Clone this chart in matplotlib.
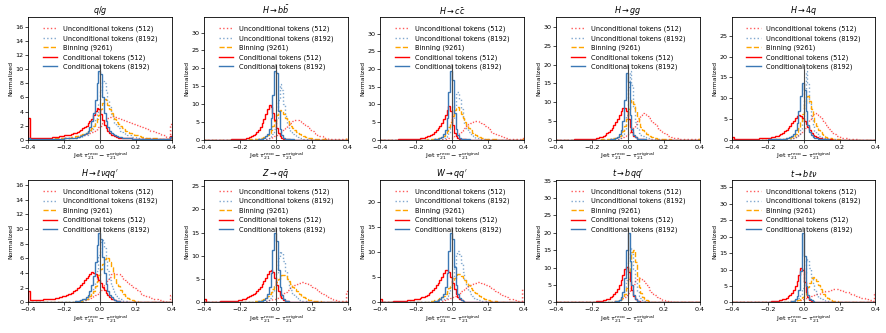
import numpy as np
import matplotlib
matplotlib.use("Agg")
import matplotlib.pyplot as plt
from matplotlib.ticker import MaxNLocator

# histogram bins: 0.01 wide from -0.4 to 0.4 (80 bins)
bin_edges = np.linspace(-0.4, 0.4, 81)

# === q/g
qg_unc512 = [
    0.3, 0.1, 0.1, 0.1, 0.1, 0.1, 0.1, 0.1, 0.1, 0.1,
    0.1, 0.1, 0.1, 0.1, 0.1, 0.2, 0.2, 0.2, 0.2, 0.2,
    0.3, 0.3, 0.3, 0.3, 0.4, 0.4, 0.4, 0.5, 0.5, 0.6,
    0.7, 0.7, 0.8, 0.9, 1.0, 1.1, 1.2, 1.4, 1.6, 1.8,
    2.0, 2.3, 2.6, 2.9, 3.1, 3.2, 3.3, 3.3, 3.2, 3.2,
    3.1, 3.0, 2.9, 2.8, 2.7, 2.6, 2.5, 2.4, 2.3, 2.2,
    2.1, 2.0, 1.9, 1.8, 1.7, 1.6, 1.5, 1.4, 1.3, 1.2,
    1.1, 1.0, 0.9, 0.8, 0.7, 0.6, 0.5, 0.4, 0.4, 2.2]
qg_unc8192 = [
    0.2, 0.1, 0.1, 0.1, 0.1, 0.1, 0.1, 0.1, 0.1, 0.1,
    0.1, 0.1, 0.1, 0.1, 0.1, 0.1, 0.1, 0.1, 0.1, 0.1,
    0.2, 0.2, 0.2, 0.2, 0.2, 0.3, 0.3, 0.3, 0.4, 0.4,
    0.5, 0.6, 0.7, 0.9, 1.1, 1.5, 2.0, 2.8, 3.8, 5.2,
    7.0, 8.3, 8.0, 6.8, 5.6, 4.6, 3.7, 3.0, 2.4, 2.0,
    1.6, 1.3, 1.1, 0.9, 0.8, 0.7, 0.6, 0.5, 0.4, 0.4,
    0.3, 0.3, 0.3, 0.2, 0.2, 0.2, 0.2, 0.2, 0.1, 0.1,
    0.1, 0.1, 0.1, 0.1, 0.1, 0.1, 0.1, 0.1, 0.1, 0.3]
qg_bin = [
    0.2, 0.1, 0.1, 0.1, 0.1, 0.1, 0.1, 0.1, 0.1, 0.1,
    0.1, 0.1, 0.1, 0.1, 0.1, 0.2, 0.2, 0.2, 0.2, 0.2,
    0.2, 0.3, 0.3, 0.3, 0.4, 0.4, 0.5, 0.5, 0.6, 0.7,
    0.8, 0.9, 1.0, 1.2, 1.4, 1.7, 2.0, 2.4, 2.9, 3.5,
    4.3, 5.2, 5.8, 5.6, 5.0, 4.4, 3.8, 3.3, 2.9, 2.5,
    2.2, 1.9, 1.7, 1.5, 1.3, 1.1, 1.0, 0.9, 0.8, 0.7,
    0.6, 0.5, 0.5, 0.4, 0.4, 0.3, 0.3, 0.3, 0.2, 0.2,
    0.2, 0.2, 0.2, 0.1, 0.1, 0.1, 0.1, 0.1, 0.1, 0.4]
qg_cond512 = [
    3.1, 0.2, 0.2, 0.2, 0.2, 0.2, 0.2, 0.3, 0.3, 0.3,
    0.3, 0.3, 0.3, 0.4, 0.4, 0.4, 0.4, 0.5, 0.5, 0.5,
    0.6, 0.6, 0.7, 0.7, 0.8, 0.9, 1.0, 1.1, 1.2, 1.4,
    1.6, 1.8, 2.0, 2.3, 2.6, 3.0, 3.5, 4.1, 4.5, 4.4,
    3.6, 2.8, 2.1, 1.6, 1.2, 0.9, 0.7, 0.6, 0.5, 0.4,
    0.3, 0.3, 0.3, 0.2, 0.2, 0.2, 0.2, 0.2, 0.1, 0.1,
    0.1, 0.1, 0.1, 0.1, 0.1, 0.1, 0.1, 0.1, 0.1, 0.1,
    0.1, 0.1, 0.1, 0.1, 0.1, 0.1, 0.1, 0.1, 0.1, 0.5]
qg_cond8192 = [
    0.3, 0.1, 0.1, 0.1, 0.1, 0.1, 0.1, 0.1, 0.1, 0.1,
    0.1, 0.1, 0.1, 0.1, 0.1, 0.1, 0.1, 0.1, 0.1, 0.1,
    0.2, 0.2, 0.2, 0.2, 0.3, 0.3, 0.3, 0.4, 0.4, 0.5,
    0.6, 0.8, 1.0, 1.3, 1.8, 2.6, 3.8, 5.6, 8.0, 9.8,
    9.4, 6.0, 3.8, 2.6, 1.8, 1.3, 1.0, 0.8, 0.6, 0.5,
    0.4, 0.4, 0.3, 0.3, 0.2, 0.2, 0.2, 0.2, 0.1, 0.1,
    0.1, 0.1, 0.1, 0.1, 0.1, 0.1, 0.1, 0.1, 0.1, 0.1,
    0.1, 0.1, 0.1, 0.1, 0.1, 0.1, 0.1, 0.1, 0.1, 0.4]

# === H -> bb
bb_unc512 = [
    0, 0, 0, 0, 0, 0, 0, 0, 0, 0,
    0, 0, 0, 0, 0, 0, 0, 0, 0, 0,
    0, 0, 0, 0, 0, 0, 0, 0.1, 0.1, 0.1,
    0.1, 0.1, 0.1, 0.2, 0.2, 0.3, 0.4, 0.5, 0.7, 0.9,
    1.2, 1.5, 1.9, 2.4, 2.9, 3.4, 3.9, 4.4, 4.8, 5.2,
    5.4, 5.5, 5.4, 5.2, 4.9, 4.5, 4.1, 3.7, 3.2, 2.8,
    2.4, 2.0, 1.7, 1.4, 1.1, 0.9, 0.7, 0.6, 0.4, 0.3,
    0.3, 0.2, 0.2, 0.1, 0.1, 0.1, 0.1, 0.1, 0.1, 0.4]
bb_unc8192 = [
    0, 0, 0, 0, 0, 0, 0, 0, 0, 0,
    0, 0, 0, 0, 0, 0, 0, 0, 0, 0,
    0, 0, 0, 0, 0, 0, 0, 0, 0, 0,
    0.1, 0.1, 0.1, 0.2, 0.2, 0.3, 0.5, 0.9, 1.6, 3.0,
    6.0, 11.0, 15.5, 14.0, 10.0, 6.5, 4.3, 3.0, 2.2, 1.6,
    1.2, 0.9, 0.7, 0.5, 0.4, 0.3, 0.2, 0.2, 0.1, 0.1,
    0, 0, 0, 0, 0, 0, 0, 0, 0, 0,
    0, 0, 0, 0, 0, 0, 0, 0, 0, 0]
bb_bin = [
    0, 0, 0, 0, 0, 0, 0, 0, 0, 0,
    0, 0, 0, 0, 0, 0, 0, 0, 0, 0,
    0, 0, 0, 0, 0, 0.1, 0.1, 0.1, 0.2, 0.2,
    0.3, 0.4, 0.5, 0.7, 0.9, 1.3, 1.8, 2.6, 3.7, 5.2,
    6.8, 8.0, 8.3, 7.9, 7.1, 6.2, 5.3, 4.5, 3.8, 3.2,
    2.7, 2.2, 1.8, 1.5, 1.2, 1.0, 0.8, 0.6, 0.5, 0.4,
    0.3, 0.3, 0.2, 0.2, 0.1, 0.1, 0.1, 0.1, 0, 0,
    0, 0, 0, 0, 0, 0, 0, 0, 0, 0.5]
bb_cond512 = [
    0, 0, 0, 0, 0, 0, 0, 0, 0, 0,
    0, 0, 0, 0, 0, 0.1, 0.1, 0.1, 0.1, 0.1,
    0.2, 0.3, 0.3, 0.4, 0.5, 0.7, 0.9, 1.2, 1.6, 2.1,
    2.8, 3.6, 4.6, 5.8, 7.2, 8.6, 9.7, 9.2, 7.6, 5.5,
    3.3, 1.8, 0.9, 0.5, 0.3, 0.2, 0.1, 0.1, 0, 0,
    0, 0, 0, 0, 0, 0, 0, 0, 0, 0,
    0, 0, 0, 0, 0, 0, 0, 0, 0, 0,
    0, 0, 0, 0, 0, 0, 0, 0, 0, 0]
bb_cond8192 = [
    0, 0, 0, 0, 0, 0, 0, 0, 0, 0,
    0, 0, 0, 0, 0, 0, 0, 0, 0, 0,
    0, 0, 0, 0, 0, 0, 0, 0, 0, 0,
    0.1, 0.2, 0.3, 0.5, 0.9, 1.6, 3.0, 6.2, 12.5, 19.3,
    18.8, 8.0, 3.0, 1.2, 0.5, 0.3, 0.2, 0.1, 0.1, 0.1,
    0, 0, 0, 0, 0, 0, 0, 0, 0, 0,
    0, 0, 0, 0, 0, 0, 0, 0, 0, 0,
    0, 0, 0, 0, 0, 0, 0, 0, 0, 0]

# === H -> cc
cc_unc512 = [
    0, 0, 0, 0, 0, 0, 0, 0, 0, 0,
    0, 0, 0, 0, 0, 0, 0, 0, 0, 0,
    0, 0, 0, 0, 0, 0, 0, 0, 0, 0,
    0.1, 0.1, 0.1, 0.1, 0.1, 0.2, 0.2, 0.3, 0.4, 0.5,
    0.7, 0.9, 1.2, 1.5, 1.9, 2.3, 2.8, 3.3, 3.8, 4.3,
    4.7, 5.0, 5.3, 5.3, 5.2, 5.0, 4.7, 4.3, 3.9, 3.5,
    3.1, 2.7, 2.3, 2.0, 1.7, 1.4, 1.1, 0.9, 0.7, 0.6,
    0.5, 0.4, 0.3, 0.3, 0.2, 0.2, 0.1, 0.1, 0.1, 0.5]
cc_unc8192 = [
    0, 0, 0, 0, 0, 0, 0, 0, 0, 0,
    0, 0, 0, 0, 0, 0, 0, 0, 0, 0,
    0, 0, 0, 0, 0, 0, 0, 0, 0, 0,
    0.1, 0.1, 0.1, 0.2, 0.3, 0.4, 0.6, 1.0, 1.8, 3.2,
    5.8, 9.5, 13.0, 13.5, 11.5, 8.8, 6.3, 4.4, 3.1, 2.2,
    1.6, 1.2, 0.9, 0.6, 0.5, 0.4, 0.3, 0.2, 0.2, 0.1,
    0, 0, 0, 0, 0, 0, 0, 0, 0, 0,
    0, 0, 0, 0, 0, 0, 0, 0, 0, 0]
cc_bin = [
    0, 0, 0, 0, 0, 0, 0, 0, 0, 0,
    0, 0, 0, 0, 0, 0, 0, 0, 0, 0,
    0, 0, 0, 0, 0, 0, 0.1, 0.1, 0.1, 0.1,
    0.2, 0.3, 0.4, 0.6, 0.8, 1.1, 1.6, 2.4, 3.5, 5.0,
    6.8, 8.3, 9.1, 9.2, 8.5, 7.4, 6.2, 5.1, 4.1, 3.3,
    2.6, 2.0, 1.6, 1.2, 0.9, 0.7, 0.5, 0.4, 0.3, 0.2,
    0.2, 0.1, 0.1, 0.1, 0.1, 0, 0, 0, 0, 0,
    0, 0, 0, 0, 0, 0, 0, 0, 0, 0.3]
cc_cond512 = [
    0, 0, 0, 0, 0, 0, 0, 0, 0, 0,
    0.1, 0.1, 0.1, 0.1, 0.1, 0.1, 0.2, 0.2, 0.2, 0.2,
    0.3, 0.3, 0.4, 0.5, 0.6, 0.7, 0.9, 1.1, 1.4, 1.7,
    2.1, 2.6, 3.2, 3.9, 4.8, 5.9, 7.1, 8.4, 9.5, 8.0,
    4.2, 2.0, 1.0, 0.5, 0.3, 0.2, 0.1, 0.1, 0, 0,
    0, 0, 0, 0, 0, 0, 0, 0, 0, 0,
    0, 0, 0, 0, 0, 0, 0, 0, 0, 0,
    0, 0, 0, 0, 0, 0, 0, 0, 0, 0]
cc_cond8192 = [
    0, 0, 0, 0, 0, 0, 0, 0, 0, 0,
    0, 0, 0, 0, 0, 0, 0, 0, 0, 0,
    0, 0, 0, 0, 0, 0, 0, 0, 0, 0,
    0.1, 0.2, 0.3, 0.5, 0.8, 1.5, 2.8, 6.0, 13.5, 19.5,
    17.0, 7.5, 3.0, 1.2, 0.5, 0.3, 0.2, 0.1, 0.1, 0.1,
    0, 0, 0, 0, 0, 0, 0, 0, 0, 0,
    0, 0, 0, 0, 0, 0, 0, 0, 0, 0,
    0, 0, 0, 0, 0, 0, 0, 0, 0, 0]

# === H -> gg
gg_unc512 = [
    0, 0, 0, 0, 0, 0, 0, 0, 0, 0,
    0, 0, 0, 0, 0, 0, 0, 0, 0, 0,
    0, 0, 0, 0, 0, 0, 0, 0, 0, 0,
    0.1, 0.1, 0.2, 0.2, 0.3, 0.4, 0.5, 0.7, 0.9, 1.2,
    1.6, 2.1, 2.7, 3.4, 4.2, 5.0, 5.8, 6.5, 7.0, 6.9,
    6.6, 6.2, 5.7, 5.1, 4.5, 3.9, 3.4, 2.9, 2.4, 2.0,
    1.7, 1.4, 1.1, 0.9, 0.7, 0.6, 0.5, 0.4, 0.3, 0.2,
    0.2, 0.2, 0.1, 0.1, 0.1, 0.1, 0.1, 0.1, 0.1, 0.3]
gg_unc8192 = [
    0, 0, 0, 0, 0, 0, 0, 0, 0, 0,
    0, 0, 0, 0, 0, 0, 0, 0, 0, 0,
    0, 0, 0, 0, 0, 0, 0, 0, 0, 0,
    0.1, 0.1, 0.2, 0.2, 0.3, 0.5, 0.8, 1.4, 2.8, 6.5,
    14.0, 18.4, 14.5, 8.5, 4.8, 2.9, 1.9, 1.3, 0.9, 0.6,
    0.5, 0.4, 0.3, 0.2, 0.2, 0.1, 0.1, 0.1, 0.1, 0,
    0, 0, 0, 0, 0, 0, 0, 0, 0, 0,
    0, 0, 0, 0, 0, 0, 0, 0, 0, 0]
gg_bin = [
    0, 0, 0, 0, 0, 0, 0, 0, 0, 0,
    0, 0, 0, 0, 0, 0, 0, 0, 0, 0,
    0, 0, 0, 0, 0, 0.1, 0.1, 0.1, 0.1, 0.1,
    0.2, 0.3, 0.4, 0.5, 0.7, 1.0, 1.5, 2.3, 3.6, 5.6,
    8.2, 10.1, 10.5, 9.4, 7.6, 5.9, 4.5, 3.4, 2.6, 2.0,
    1.5, 1.2, 0.9, 0.7, 0.5, 0.4, 0.3, 0.2, 0.2, 0.1,
    0.1, 0.1, 0.1, 0.1, 0, 0, 0, 0, 0, 0,
    0, 0, 0, 0, 0, 0, 0, 0, 0, 0.3]
gg_cond512 = [
    0, 0, 0, 0, 0, 0, 0, 0, 0, 0,
    0.1, 0.1, 0.1, 0.1, 0.1, 0.1, 0.2, 0.2, 0.2, 0.2,
    0.3, 0.3, 0.4, 0.5, 0.6, 0.8, 1.0, 1.3, 1.7, 2.1,
    2.6, 3.2, 3.9, 4.7, 5.6, 6.6, 7.6, 8.4, 8.5, 7.6,
    5.6, 3.5, 2.0, 1.1, 0.6, 0.3, 0.2, 0.1, 0.1, 0,
    0, 0, 0, 0, 0, 0, 0, 0, 0, 0,
    0, 0, 0, 0, 0, 0, 0, 0, 0, 0,
    0, 0, 0, 0, 0, 0, 0, 0, 0, 0]
gg_cond8192 = [
    0, 0, 0, 0, 0, 0, 0, 0, 0, 0,
    0, 0, 0, 0, 0, 0, 0, 0, 0, 0,
    0, 0, 0, 0, 0, 0, 0, 0, 0, 0,
    0.1, 0.2, 0.3, 0.5, 0.8, 1.4, 2.5, 5.0, 10.5, 17.8,
    15.5, 6.5, 2.8, 1.3, 0.6, 0.3, 0.2, 0.1, 0.1, 0.1,
    0, 0, 0, 0, 0, 0, 0, 0, 0, 0,
    0, 0, 0, 0, 0, 0, 0, 0, 0, 0,
    0, 0, 0, 0, 0, 0, 0, 0, 0, 0]

# === H -> 4q
q4_unc512 = [
    0, 0, 0, 0, 0, 0, 0, 0, 0, 0,
    0, 0, 0, 0, 0, 0, 0, 0, 0, 0,
    0.1, 0.1, 0.1, 0.1, 0.1, 0.1, 0.1, 0.1, 0.2, 0.2,
    0.2, 0.2, 0.3, 0.4, 0.5, 0.7, 0.9, 1.2, 1.6, 2.1,
    2.7, 3.4, 4.2, 5.0, 5.8, 6.3, 6.5, 6.3, 5.9, 5.4,
    4.8, 4.2, 3.6, 3.0, 2.5, 2.0, 1.6, 1.3, 1.0, 0.8,
    0.6, 0.5, 0.4, 0.3, 0.2, 0.2, 0.1, 0.1, 0.1, 0.1,
    0, 0, 0, 0, 0, 0, 0, 0, 0, 0]
q4_unc8192 = [
    0, 0, 0, 0, 0, 0, 0, 0, 0, 0,
    0, 0, 0, 0, 0, 0, 0, 0, 0, 0,
    0, 0, 0, 0, 0, 0, 0, 0, 0, 0,
    0.1, 0.1, 0.2, 0.3, 0.4, 0.6, 0.9, 1.4, 2.5, 5.2,
    11.5, 16.6, 13.5, 8.5, 5.2, 3.3, 2.2, 1.5, 1.0, 0.7,
    0.5, 0.4, 0.3, 0.2, 0.2, 0.1, 0.1, 0.1, 0.1, 0,
    0, 0, 0, 0, 0, 0, 0, 0, 0, 0,
    0, 0, 0, 0, 0, 0, 0, 0, 0, 0]
q4_bin = [
    0, 0, 0, 0, 0, 0, 0, 0, 0, 0,
    0, 0, 0, 0, 0, 0, 0, 0, 0, 0,
    0, 0, 0, 0, 0.1, 0.1, 0.1, 0.1, 0.2, 0.2,
    0.3, 0.4, 0.5, 0.7, 0.9, 1.3, 1.9, 2.8, 4.2, 6.2,
    8.6, 10.3, 10.5, 9.3, 7.5, 5.7, 4.3, 3.2, 2.4, 1.8,
    1.3, 1.0, 0.7, 0.5, 0.4, 0.3, 0.2, 0.2, 0.1, 0.1,
    0, 0, 0, 0, 0, 0, 0, 0, 0, 0,
    0, 0, 0, 0, 0, 0, 0, 0, 0, 0]
q4_cond512 = [
    0.6, 0.1, 0.1, 0.1, 0.1, 0.1, 0.1, 0.1, 0.1, 0.1,
    0.2, 0.2, 0.2, 0.2, 0.2, 0.3, 0.3, 0.3, 0.3, 0.4,
    0.5, 0.5, 0.6, 0.7, 0.8, 1.0, 1.2, 1.4, 1.7, 2.0,
    2.4, 2.8, 3.3, 3.9, 4.5, 5.1, 5.7, 6.0, 5.8, 5.3,
    4.6, 3.8, 3.0, 2.3, 1.7, 1.2, 0.9, 0.6, 0.4, 0.3,
    0.2, 0.2, 0.1, 0.1, 0.1, 0.1, 0, 0, 0, 0,
    0, 0, 0, 0, 0, 0, 0, 0, 0, 0,
    0, 0, 0, 0, 0, 0, 0, 0, 0, 0]
q4_cond8192 = [
    0, 0, 0, 0, 0, 0, 0, 0, 0, 0,
    0, 0, 0, 0, 0, 0, 0, 0, 0, 0,
    0.1, 0.1, 0.1, 0.1, 0.1, 0.1, 0.1, 0.2, 0.2, 0.2,
    0.3, 0.4, 0.6, 0.9, 1.4, 2.3, 4.0, 6.8, 10.4, 13.6,
    12.0, 6.8, 3.5, 1.9, 1.1, 0.7, 0.5, 0.3, 0.2, 0.2,
    0.1, 0.1, 0.1, 0.1, 0, 0, 0, 0, 0, 0,
    0, 0, 0, 0, 0, 0, 0, 0, 0, 0,
    0, 0, 0, 0, 0, 0, 0, 0, 0, 0]

# === H -> l nu q q'
lv_unc512 = [
    0, 0, 0, 0, 0, 0, 0, 0, 0, 0,
    0, 0, 0, 0, 0, 0.1, 0.1, 0.1, 0.1, 0.1,
    0.1, 0.1, 0.1, 0.1, 0.1, 0.2, 0.2, 0.2, 0.2, 0.2,
    0.3, 0.3, 0.4, 0.5, 0.6, 0.7, 0.8, 1.0, 1.2, 1.4,
    1.7, 2.0, 2.4, 2.8, 3.2, 3.5, 3.8, 4.0, 4.0, 3.9,
    3.8, 3.6, 3.4, 3.2, 3.0, 2.8, 2.5, 2.3, 2.1, 1.9,
    1.7, 1.5, 1.3, 1.2, 1.0, 0.9, 0.8, 0.7, 0.6, 0.5,
    0.4, 0.4, 0.3, 0.3, 0.2, 0.2, 0.2, 0.1, 0.1, 1.0]
lv_unc8192 = [
    0, 0, 0, 0, 0, 0, 0, 0, 0, 0,
    0, 0, 0, 0, 0, 0, 0, 0, 0, 0,
    0, 0, 0.1, 0.1, 0.1, 0.1, 0.1, 0.1, 0.1, 0.2,
    0.2, 0.3, 0.4, 0.6, 0.8, 1.2, 1.8, 2.8, 4.3, 6.5,
    8.3, 8.5, 7.4, 5.8, 4.3, 3.1, 2.2, 1.6, 1.1, 0.8,
    0.6, 0.4, 0.3, 0.2, 0.2, 0.1, 0.1, 0.1, 0, 0,
    0, 0, 0, 0, 0, 0, 0, 0, 0, 0,
    0, 0, 0, 0, 0, 0, 0, 0, 0, 0]
lv_bin = [
    0, 0, 0, 0, 0, 0, 0, 0, 0, 0,
    0, 0, 0, 0, 0, 0, 0, 0, 0, 0,
    0, 0, 0, 0.1, 0.1, 0.1, 0.1, 0.1, 0.2, 0.2,
    0.3, 0.4, 0.5, 0.7, 0.9, 1.2, 1.6, 2.2, 2.9, 3.7,
    4.5, 5.3, 5.9, 6.2, 6.0, 5.5, 4.8, 4.0, 3.3, 2.7,
    2.2, 1.7, 1.4, 1.1, 0.8, 0.6, 0.5, 0.4, 0.3, 0.2,
    0.2, 0.1, 0.1, 0.1, 0.1, 0, 0, 0, 0, 0,
    0, 0, 0, 0, 0, 0, 0, 0, 0, 0]
lv_cond512 = [
    1.5, 0.3, 0.3, 0.3, 0.3, 0.3, 0.3, 0.3, 0.4, 0.4,
    0.4, 0.4, 0.5, 0.5, 0.5, 0.6, 0.6, 0.7, 0.7, 0.8,
    0.9, 1.0, 1.1, 1.2, 1.3, 1.5, 1.7, 1.9, 2.1, 2.4,
    2.7, 3.0, 3.3, 3.6, 3.9, 4.1, 4.0, 3.8, 3.5, 3.1,
    2.6, 2.1, 1.7, 1.3, 1.0, 0.7, 0.5, 0.4, 0.3, 0.2,
    0.2, 0.1, 0.1, 0.1, 0.1, 0.1, 0, 0, 0, 0,
    0, 0, 0, 0, 0, 0, 0, 0, 0, 0,
    0, 0, 0, 0, 0, 0, 0, 0, 0, 0]
lv_cond8192 = [
    0, 0, 0, 0, 0, 0, 0, 0, 0, 0,
    0, 0, 0, 0, 0, 0, 0, 0, 0, 0,
    0.1, 0.1, 0.1, 0.1, 0.1, 0.1, 0.2, 0.2, 0.2, 0.3,
    0.4, 0.5, 0.7, 1.0, 1.5, 2.3, 3.6, 5.5, 7.8, 9.4,
    8.6, 6.2, 4.0, 2.5, 1.6, 1.0, 0.7, 0.5, 0.3, 0.2,
    0.2, 0.1, 0.1, 0.1, 0.1, 0, 0, 0, 0, 0,
    0, 0, 0, 0, 0, 0, 0, 0, 0, 0,
    0, 0, 0, 0, 0, 0, 0, 0, 0, 0]

# === Z -> q qbar
z_unc512 = [
    0, 0, 0, 0, 0, 0, 0, 0, 0, 0,
    0, 0, 0, 0, 0, 0, 0, 0, 0, 0,
    0, 0, 0, 0, 0.1, 0.1, 0.1, 0.1, 0.1, 0.1,
    0.1, 0.2, 0.2, 0.3, 0.3, 0.4, 0.5, 0.6, 0.7, 0.8,
    1.0, 1.2, 1.4, 1.7, 2.0, 2.3, 2.6, 2.9, 3.2, 3.5,
    3.7, 3.9, 4.1, 4.2, 4.3, 4.3, 4.2, 4.1, 3.9, 3.7,
    3.4, 3.2, 2.9, 2.6, 2.3, 2.0, 1.8, 1.5, 1.3, 1.1,
    0.9, 0.8, 0.6, 0.5, 0.4, 0.3, 0.3, 0.2, 0.2, 2.5]
z_unc8192 = [
    0, 0, 0, 0, 0, 0, 0, 0, 0, 0,
    0, 0, 0, 0, 0, 0, 0, 0, 0, 0,
    0, 0, 0, 0, 0, 0, 0, 0, 0, 0,
    0.1, 0.2, 0.2, 0.3, 0.4, 0.6, 0.9, 1.4, 2.3, 3.8,
    6.4, 9.6, 11.0, 10.6, 8.8, 6.8, 5.0, 3.6, 2.6, 1.9,
    1.4, 1.0, 0.8, 0.6, 0.4, 0.3, 0.2, 0.2, 0.1, 0.1,
    0, 0, 0, 0, 0, 0, 0, 0, 0, 0,
    0, 0, 0, 0, 0, 0, 0, 0, 0, 0]
z_bin = [
    0, 0, 0, 0, 0, 0, 0, 0, 0, 0,
    0, 0, 0, 0, 0, 0, 0, 0, 0, 0,
    0, 0, 0.1, 0.1, 0.1, 0.1, 0.1, 0.2, 0.2, 0.3,
    0.4, 0.5, 0.6, 0.8, 1.0, 1.3, 1.7, 2.2, 2.8, 3.5,
    4.3, 5.0, 5.6, 5.9, 5.9, 5.6, 5.1, 4.5, 3.9, 3.4,
    2.9, 2.4, 2.0, 1.7, 1.4, 1.1, 0.9, 0.7, 0.6, 0.5,
    0.4, 0.3, 0.3, 0.2, 0.2, 0.1, 0.1, 0.1, 0.1, 0.1,
    0, 0, 0, 0, 0, 0, 0, 0, 0, 0]
z_cond512 = [
    0.8, 0.1, 0.1, 0.1, 0.1, 0.1, 0.1, 0.1, 0.1, 0.2,
    0.2, 0.2, 0.2, 0.2, 0.3, 0.3, 0.3, 0.4, 0.4, 0.5,
    0.6, 0.7, 0.8, 0.9, 1.1, 1.3, 1.5, 1.8, 2.1, 2.5,
    2.9, 3.4, 4.0, 4.6, 5.3, 6.0, 6.7, 7.0, 6.5, 5.3,
    3.8, 2.4, 1.5, 0.9, 0.5, 0.3, 0.2, 0.1, 0.1, 0.1,
    0, 0, 0, 0, 0, 0, 0, 0, 0, 0,
    0, 0, 0, 0, 0, 0, 0, 0, 0, 0,
    0, 0, 0, 0, 0, 0, 0, 0, 0, 0]
z_cond8192 = [
    0, 0, 0, 0, 0, 0, 0, 0, 0, 0,
    0, 0, 0, 0, 0, 0, 0, 0, 0, 0,
    0, 0, 0, 0, 0, 0, 0, 0, 0, 0,
    0.2, 0.3, 0.4, 0.6, 1.0, 1.7, 3.2, 6.3, 11.2, 14.8,
    13.2, 7.0, 3.2, 1.5, 0.7, 0.4, 0.2, 0.1, 0.1, 0.1,
    0, 0, 0, 0, 0, 0, 0, 0, 0, 0,
    0, 0, 0, 0, 0, 0, 0, 0, 0, 0,
    0, 0, 0, 0, 0, 0, 0, 0, 0, 0]

# === W -> q q'
w_unc512 = [
    0, 0, 0, 0, 0, 0, 0, 0, 0, 0,
    0, 0, 0, 0, 0, 0, 0, 0, 0, 0,
    0, 0, 0, 0, 0.1, 0.1, 0.1, 0.1, 0.1, 0.1,
    0.1, 0.2, 0.2, 0.3, 0.3, 0.4, 0.5, 0.6, 0.7, 0.8,
    1.0, 1.2, 1.4, 1.6, 1.9, 2.2, 2.5, 2.8, 3.1, 3.3,
    3.5, 3.7, 3.8, 3.9, 4.0, 4.0, 3.9, 3.8, 3.7, 3.5,
    3.3, 3.1, 2.8, 2.6, 2.3, 2.1, 1.8, 1.6, 1.4, 1.2,
    1.0, 0.9, 0.7, 0.6, 0.5, 0.4, 0.3, 0.3, 0.2, 2.7]
w_unc8192 = [
    0, 0, 0, 0, 0, 0, 0, 0, 0, 0,
    0, 0, 0, 0, 0, 0, 0, 0, 0, 0,
    0, 0, 0, 0, 0, 0, 0, 0, 0, 0,
    0.1, 0.2, 0.2, 0.3, 0.4, 0.6, 0.8, 1.2, 1.9, 3.0,
    4.8, 7.3, 9.4, 10.3, 9.6, 7.9, 6.0, 4.4, 3.2, 2.3,
    1.7, 1.2, 0.9, 0.7, 0.5, 0.4, 0.3, 0.2, 0.2, 0.1,
    0, 0, 0, 0, 0, 0, 0, 0, 0, 0,
    0, 0, 0, 0, 0, 0, 0, 0, 0, 0]
w_bin = [
    0, 0, 0, 0, 0, 0, 0, 0, 0, 0,
    0, 0, 0, 0, 0, 0, 0, 0, 0, 0,
    0, 0, 0.1, 0.1, 0.1, 0.1, 0.1, 0.2, 0.2, 0.3,
    0.4, 0.5, 0.6, 0.8, 1.0, 1.3, 1.7, 2.2, 2.8, 3.5,
    4.2, 4.9, 5.4, 5.7, 5.6, 5.3, 4.9, 4.4, 3.9, 3.4,
    2.9, 2.5, 2.1, 1.8, 1.5, 1.2, 1.0, 0.8, 0.6, 0.5,
    0.4, 0.3, 0.3, 0.2, 0.2, 0.1, 0.1, 0.1, 0.1, 0.1,
    0, 0, 0, 0, 0, 0, 0, 0, 0, 0]
w_cond512 = [
    0.6, 0.1, 0.1, 0.1, 0.1, 0.1, 0.1, 0.2, 0.2, 0.2,
    0.2, 0.2, 0.3, 0.3, 0.3, 0.4, 0.4, 0.4, 0.5, 0.6,
    0.6, 0.7, 0.8, 1.0, 1.1, 1.3, 1.5, 1.8, 2.1, 2.5,
    2.9, 3.4, 3.9, 4.5, 5.1, 5.8, 6.4, 6.5, 6.0, 5.1,
    3.9, 2.7, 1.7, 1.0, 0.6, 0.4, 0.2, 0.1, 0.1, 0.1,
    0, 0, 0, 0, 0, 0, 0, 0, 0, 0,
    0, 0, 0, 0, 0, 0, 0, 0, 0, 0,
    0, 0, 0, 0, 0, 0, 0, 0, 0, 0]
w_cond8192 = [
    0, 0, 0, 0, 0, 0, 0, 0, 0, 0,
    0, 0, 0, 0, 0, 0, 0, 0, 0, 0,
    0, 0, 0, 0, 0, 0, 0, 0, 0, 0,
    0.2, 0.3, 0.4, 0.6, 1.0, 1.7, 3.0, 5.8, 10.2, 13.7,
    12.5, 7.0, 3.4, 1.6, 0.8, 0.4, 0.2, 0.1, 0.1, 0.1,
    0, 0, 0, 0, 0, 0, 0, 0, 0, 0,
    0, 0, 0, 0, 0, 0, 0, 0, 0, 0,
    0, 0, 0, 0, 0, 0, 0, 0, 0, 0]

# === t -> b q q'
tq_unc512 = [
    0, 0, 0, 0, 0, 0, 0, 0, 0, 0,
    0, 0, 0, 0, 0, 0, 0, 0, 0, 0,
    0.1, 0.1, 0.1, 0.1, 0.1, 0.1, 0.1, 0.1, 0.1, 0.1,
    0.2, 0.2, 0.3, 0.4, 0.5, 0.7, 0.9, 1.2, 1.6, 2.1,
    2.7, 3.5, 4.4, 5.4, 6.3, 6.9, 7.0, 6.8, 6.3, 5.7,
    5.0, 4.3, 3.6, 3.0, 2.5, 2.0, 1.6, 1.3, 1.0, 0.8,
    0.6, 0.5, 0.4, 0.3, 0.2, 0.2, 0.1, 0.1, 0.1, 0.1,
    0, 0, 0, 0, 0, 0, 0, 0, 0, 0]
tq_unc8192 = [
    0, 0, 0, 0, 0, 0, 0, 0, 0, 0,
    0, 0, 0, 0, 0, 0, 0, 0, 0, 0,
    0, 0, 0, 0, 0, 0, 0, 0, 0, 0,
    0.1, 0.1, 0.2, 0.3, 0.4, 0.6, 1.0, 1.7, 3.2, 6.5,
    11.5, 15.5, 14.0, 9.5, 5.5, 3.2, 1.9, 1.2, 0.8, 0.5,
    0.3, 0.2, 0.2, 0.1, 0.1, 0, 0, 0, 0, 0,
    0, 0, 0, 0, 0, 0, 0, 0, 0, 0,
    0, 0, 0, 0, 0, 0, 0, 0, 0, 0]
tq_bin = [
    0, 0, 0, 0, 0, 0, 0, 0, 0, 0,
    0, 0, 0, 0, 0, 0, 0, 0, 0, 0,
    0, 0, 0, 0, 0, 0, 0, 0, 0, 0,
    0.1, 0.2, 0.2, 0.3, 0.4, 0.6, 0.9, 1.4, 2.3, 4.0,
    6.8, 10.5, 14.5, 15.0, 11.5, 7.5, 4.5, 2.7, 1.6, 1.0,
    0.7, 0.5, 0.3, 0.2, 0.2, 0.1, 0.1, 0, 0, 0,
    0, 0, 0, 0, 0, 0, 0, 0, 0, 0,
    0, 0, 0, 0, 0, 0, 0, 0, 0, 0]
tq_cond512 = [
    0, 0, 0, 0, 0, 0, 0, 0, 0, 0,
    0, 0, 0, 0, 0.1, 0.1, 0.1, 0.1, 0.1, 0.1,
    0.2, 0.2, 0.3, 0.3, 0.4, 0.5, 0.6, 0.7, 0.9, 1.1,
    1.4, 1.8, 2.3, 3.0, 3.9, 5.0, 6.4, 8.0, 9.6, 10.2,
    8.8, 6.0, 3.5, 1.9, 1.0, 0.5, 0.3, 0.2, 0.1, 0.1,
    0, 0, 0, 0, 0, 0, 0, 0, 0, 0,
    0, 0, 0, 0, 0, 0, 0, 0, 0, 0,
    0, 0, 0, 0, 0, 0, 0, 0, 0, 0]
tq_cond8192 = [
    0, 0, 0, 0, 0, 0, 0, 0, 0, 0,
    0, 0, 0, 0, 0, 0, 0, 0, 0, 0,
    0, 0, 0, 0, 0, 0, 0, 0, 0, 0,
    0.1, 0.1, 0.2, 0.3, 0.5, 0.8, 1.5, 3.0, 7.0, 15.0,
    19.8, 12.0, 5.0, 2.0, 0.9, 0.4, 0.2, 0.1, 0.1, 0,
    0, 0, 0, 0, 0, 0, 0, 0, 0, 0,
    0, 0, 0, 0, 0, 0, 0, 0, 0, 0,
    0, 0, 0, 0, 0, 0, 0, 0, 0, 0]

# === t -> b l nu
tl_unc512 = [
    0, 0, 0, 0, 0, 0, 0, 0, 0, 0,
    0, 0, 0, 0, 0, 0, 0, 0, 0, 0,
    0.1, 0.1, 0.1, 0.1, 0.1, 0.1, 0.1, 0.1, 0.1, 0.1,
    0.2, 0.2, 0.3, 0.3, 0.4, 0.5, 0.6, 0.7, 0.8, 1.0,
    1.1, 1.3, 1.5, 1.7, 1.9, 2.1, 2.3, 2.5, 2.7, 2.9,
    3.1, 3.3, 3.5, 3.6, 3.8, 3.9, 4.0, 4.0, 4.0, 3.9,
    3.8, 3.7, 3.5, 3.3, 3.1, 2.9, 2.7, 2.4, 2.2, 2.0,
    1.8, 1.6, 1.4, 1.2, 1.0, 0.9, 0.7, 0.6, 0.5, 3.3]
tl_unc8192 = [
    0, 0, 0, 0, 0, 0, 0, 0, 0, 0,
    0, 0, 0, 0, 0, 0, 0, 0, 0, 0,
    0, 0, 0, 0, 0, 0, 0, 0, 0, 0,
    0.1, 0.1, 0.2, 0.3, 0.4, 0.6, 0.9, 1.4, 2.4, 4.5,
    9.0, 13.2, 12.8, 10.6, 7.8, 5.4, 3.7, 2.5, 1.7, 1.2,
    0.9, 0.6, 0.5, 0.4, 0.3, 0.2, 0.2, 0.1, 0.1, 0.1,
    0, 0, 0, 0, 0, 0, 0, 0, 0, 0,
    0, 0, 0, 0, 0, 0, 0, 0, 0, 0]
tl_bin = [
    0, 0, 0, 0, 0, 0, 0, 0, 0, 0,
    0, 0, 0, 0, 0, 0, 0, 0, 0, 0,
    0, 0, 0, 0, 0, 0, 0, 0, 0, 0,
    0.1, 0.1, 0.2, 0.2, 0.3, 0.4, 0.6, 0.8, 1.1, 1.6,
    2.3, 3.3, 4.6, 6.0, 7.3, 7.8, 7.5, 6.6, 5.4, 4.2,
    3.2, 2.4, 1.8, 1.3, 1.0, 0.7, 0.5, 0.4, 0.3, 0.2,
    0.2, 0.1, 0.1, 0.1, 0.1, 0, 0, 0, 0, 0,
    0, 0, 0, 0, 0, 0, 0, 0, 0, 0]
tl_cond512 = [
    0, 0, 0, 0, 0, 0, 0, 0, 0, 0,
    0, 0, 0, 0, 0.1, 0.1, 0.1, 0.1, 0.1, 0.1,
    0.2, 0.2, 0.3, 0.3, 0.4, 0.5, 0.6, 0.7, 0.9, 1.1,
    1.4, 1.8, 2.3, 3.0, 3.9, 5.1, 6.6, 8.4, 10.5, 9.8,
    6.2, 3.2, 1.6, 0.8, 0.4, 0.2, 0.1, 0.1, 0.1, 0,
    0, 0, 0, 0, 0, 0, 0, 0, 0, 0,
    0, 0, 0, 0, 0, 0, 0, 0, 0, 0,
    0, 0, 0, 0, 0, 0, 0, 0, 0, 0]
tl_cond8192 = [
    0, 0, 0, 0, 0, 0, 0, 0, 0, 0,
    0, 0, 0, 0, 0, 0, 0, 0, 0, 0,
    0, 0, 0, 0, 0, 0, 0, 0, 0, 0,
    0.1, 0.1, 0.2, 0.3, 0.5, 0.9, 1.8, 3.8, 9.5, 21.0,
    14.0, 5.0, 2.2, 1.1, 0.6, 0.3, 0.2, 0.1, 0.1, 0.1,
    0, 0, 0, 0, 0, 0, 0, 0, 0, 0,
    0, 0, 0, 0, 0, 0, 0, 0, 0, 0,
    0, 0, 0, 0, 0, 0, 0, 0, 0, 0]

titles = [r"$q/g$", r"$H\rightarrow b\bar{b}$", r"$H\rightarrow c\bar{c}$",
          r"$H\rightarrow gg$", r"$H\rightarrow 4q$",
          r"$H\rightarrow \ell\nu qq'$", r"$Z\rightarrow q\bar{q}$",
          r"$W\rightarrow qq'$", r"$t\rightarrow bqq'$", r"$t\rightarrow b\ell\nu$"]

panels = [
    (qg_unc512, qg_unc8192, qg_bin, qg_cond512, qg_cond8192),
    (bb_unc512, bb_unc8192, bb_bin, bb_cond512, bb_cond8192),
    (cc_unc512, cc_unc8192, cc_bin, cc_cond512, cc_cond8192),
    (gg_unc512, gg_unc8192, gg_bin, gg_cond512, gg_cond8192),
    (q4_unc512, q4_unc8192, q4_bin, q4_cond512, q4_cond8192),
    (lv_unc512, lv_unc8192, lv_bin, lv_cond512, lv_cond8192),
    (z_unc512, z_unc8192, z_bin, z_cond512, z_cond8192),
    (w_unc512, w_unc8192, w_bin, w_cond512, w_cond8192),
    (tq_unc512, tq_unc8192, tq_bin, tq_cond512, tq_cond8192),
    (tl_unc512, tl_unc8192, tl_bin, tl_cond512, tl_cond8192),
]

labels = ["Unconditional tokens (512)", "Unconditional tokens (8192)",
          "Binning (9261)", "Conditional tokens (512)", "Conditional tokens (8192)"]
colors = ["red", "#3b78b5", "orange", "red", "#3b78b5"]
styles = [":", ":", "--", "-", "-"]
alphas = [0.65, 0.65, 1.0, 1.0, 1.0]

fig, axes = plt.subplots(2, 5, figsize=(8.87, 3.33), dpi=100)
fig.subplots_adjust(left=0.032, right=0.987, top=0.949, bottom=0.092,
                    wspace=0.226, hspace=0.326)

for ax, title, series in zip(axes.flat, titles, panels):
    for vals, lab, c, ls, a in zip(series, labels, colors, styles, alphas):
        assert len(vals) == 80, (title, lab, len(vals))
        ax.stairs(vals, bin_edges, color=c, linestyle=ls, alpha=a, lw=1.0, label=lab)
    top = 1.78 * max(max(s) for s in series)
    ax.set_xlim(-0.4, 0.4)
    ax.set_ylim(0, top)
    ax.axvline(0, ymax=0.61, color="0.3", lw=0.8)
    ax.set_xticks([-0.4, -0.2, 0.0, 0.2, 0.4])
    ax.yaxis.set_major_locator(MaxNLocator(nbins=9, steps=[1, 2, 5, 10]))
    ax.set_title(title, fontsize=5.8, pad=2)
    ax.set_xlabel(r"Jet $\tau_{21}^{\mathrm{reco}} - \tau_{21}^{\mathrm{original}}$",
                  fontsize=4.6, labelpad=1)
    ax.set_ylabel("Normalized", fontsize=4.4, labelpad=1.5)
    ax.tick_params(labelsize=4.6, length=2, width=0.5, pad=1.5)
    for sp in ax.spines.values():
        sp.set_linewidth(0.6)
    ax.legend(loc="upper center", frameon=False, fontsize=4.8,
              handlelength=2.2, labelspacing=0.45, borderaxespad=0.9)

fig.savefig("out.png", dpi=100)
